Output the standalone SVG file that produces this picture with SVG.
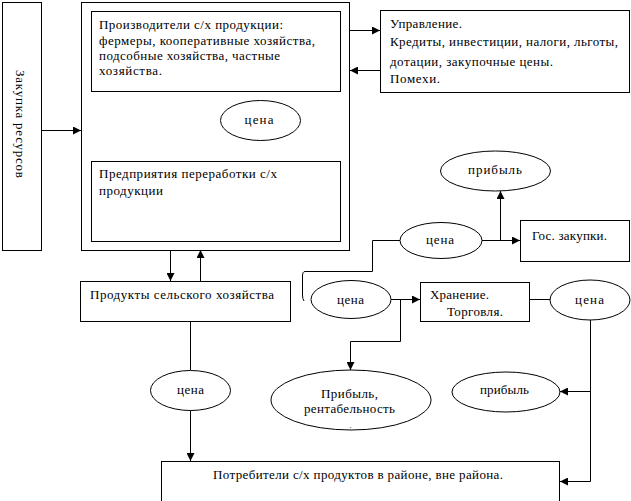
<svg xmlns="http://www.w3.org/2000/svg" width="631" height="501" viewBox="0 0 631 501">
<style>
.b{fill:#fff;stroke:#000;stroke-width:1}
.l{fill:none;stroke:#000;stroke-width:1}
.a{fill:none;stroke:#000;stroke-width:1;marker-end:url(#ah)}
text{font-family:"Liberation Serif","Times New Roman",serif;font-size:13px;fill:#000}
.c{text-anchor:middle}
</style>
<defs>
<marker id="ah" viewBox="0 0 10 10" refX="10" refY="5" markerWidth="9" markerHeight="8" markerUnits="userSpaceOnUse" orient="auto">
<path d="M0,0 L10,5 L0,10 z" fill="#000"/>
</marker>
</defs>
<rect x="0" y="0" width="631" height="501" fill="#fff"/>
<g id="connectors">
<path class="a" d="M41,130.5 H81"/>
<path class="a" d="M350,30.5 H380"/>
<path class="a" d="M380,70.5 H350"/>
<path class="l" d="M260.5,91 V100"/>
<path class="a" d="M170.5,250 V281"/>
<path class="a" d="M200.5,281 V250"/>
<path class="l" d="M190.5,321 V370"/>
<path class="a" d="M190.5,410 V461"/>
<path class="a" d="M482,240.5 H520"/>
<path class="a" d="M500.5,240.5 V191"/>
<path class="l" d="M400,240.5 H372.5 V271.5 H305 Q302.5,271.5 302.5,276 V295 Q302.5,299 304,301"/>
<path class="a" d="M391,299.5 H420"/>
<path class="a" d="M400.5,299.5 V341.5 H350.5 V370"/>
<path class="l" d="M530,299.5 H550"/>
<path class="a" d="M590.5,320 V481.5 H560"/>
<path class="a" d="M590.5,391.5 H560"/>
</g>
<g id="zakupka">
<rect class="b" x="2.5" y="2.5" width="39" height="248"/>
<text transform="translate(16,124) rotate(90)" class="c" textLength="108" lengthAdjust="spacing">Закупка ресурсов</text>
</g>
<g id="main">
<rect class="b" x="81.5" y="2.5" width="268" height="248"/>
</g>
<g id="proizvoditeli">
<rect class="b" x="91.5" y="11.5" width="249" height="80"/>
<text x="99" y="29" textLength="184" lengthAdjust="spacing">Производители с/х продукции:</text>
<text x="99" y="45" textLength="216" lengthAdjust="spacing">фермеры, кооперативные хозяйства,</text>
<text x="99" y="60" textLength="181" lengthAdjust="spacing">подсобные хозяйства, частные</text>
<text x="99" y="75" textLength="63" lengthAdjust="spacing">хозяйства.</text>
</g>
<g id="cena1">
<ellipse class="b" cx="260.5" cy="120.5" rx="40" ry="20"/>
<text x="259" y="124" class="c" textLength="29" lengthAdjust="spacing">цена</text>
</g>
<g id="pererabotka">
<rect class="b" x="91.5" y="161.5" width="249" height="80"/>
<text x="99" y="178" textLength="178" lengthAdjust="spacing">Предприятия переработки с/х</text>
<text x="99" y="195" textLength="64" lengthAdjust="spacing">продукции</text>
</g>
<g id="upravlenie">
<rect class="b" x="380.5" y="10.5" width="249" height="82"/>
<text x="390" y="28" textLength="72" lengthAdjust="spacing">Управление.</text>
<text x="390" y="46" textLength="228" lengthAdjust="spacing">Кредиты, инвестиции, налоги, льготы,</text>
<text x="390" y="66" textLength="163" lengthAdjust="spacing">дотации, закупочные цены.</text>
<text x="390" y="83" textLength="50" lengthAdjust="spacing">Помехи.</text>
</g>
<g id="pribyl1">
<ellipse class="b" cx="495.5" cy="171" rx="55" ry="20"/>
<text x="495" y="174" class="c" textLength="54" lengthAdjust="spacing">прибыль</text>
</g>
<g id="cena2">
<ellipse class="b" cx="441" cy="240.5" rx="41" ry="18"/>
<text x="440" y="244" class="c" textLength="28" lengthAdjust="spacing">цена</text>
</g>
<g id="goszakupki">
<rect class="b" x="520.5" y="220.5" width="109" height="41"/>
<text x="532" y="240" textLength="75" lengthAdjust="spacing">Гос. закупки.</text>
</g>
<g id="produkty">
<rect class="b" x="80.5" y="281.5" width="210" height="40"/>
<text x="90" y="299" textLength="184" lengthAdjust="spacing">Продукты сельского хозяйства</text>
</g>
<g id="cena3">
<ellipse class="b" cx="351" cy="299.5" rx="40" ry="19"/>
<text x="350.5" y="304" class="c" textLength="27" lengthAdjust="spacing">цена</text>
</g>
<g id="hranenie">
<rect class="b" x="420.5" y="282.5" width="109" height="39"/>
<text x="430" y="299" textLength="59" lengthAdjust="spacing">Хранение.</text>
<text x="447" y="316" textLength="56" lengthAdjust="spacing">Торговля.</text>
</g>
<g id="cena4">
<ellipse class="b" cx="590" cy="300" rx="40" ry="20"/>
<text x="589.5" y="304" class="c" textLength="29" lengthAdjust="spacing">цена</text>
</g>
<g id="cena5">
<ellipse class="b" cx="190.5" cy="390.5" rx="40" ry="20"/>
<text x="190.5" y="394" class="c" textLength="27" lengthAdjust="spacing">цена</text>
</g>
<g id="pribyl_rent">
<ellipse class="b" cx="351" cy="400" rx="80" ry="30"/>
<text x="349.5" y="398" class="c" textLength="57" lengthAdjust="spacing">Прибыль,</text>
<text x="349.5" y="413" class="c" textLength="91" lengthAdjust="spacing">рентабельность</text>
<text x="350.5" y="428" class="c" style="font-size:8px">.</text>
</g>
<g id="pribyl2">
<ellipse class="b" cx="506" cy="392" rx="54" ry="20"/>
<text x="504.5" y="394" class="c" textLength="49" lengthAdjust="spacing">прибыль</text>
</g>
<g id="potrebiteli">
<rect class="b" x="161.5" y="461.5" width="398" height="45"/>
<text x="213" y="479" textLength="290" lengthAdjust="spacing">Потребители с/х продуктов в районе, вне района.</text>
</g>
</svg>
